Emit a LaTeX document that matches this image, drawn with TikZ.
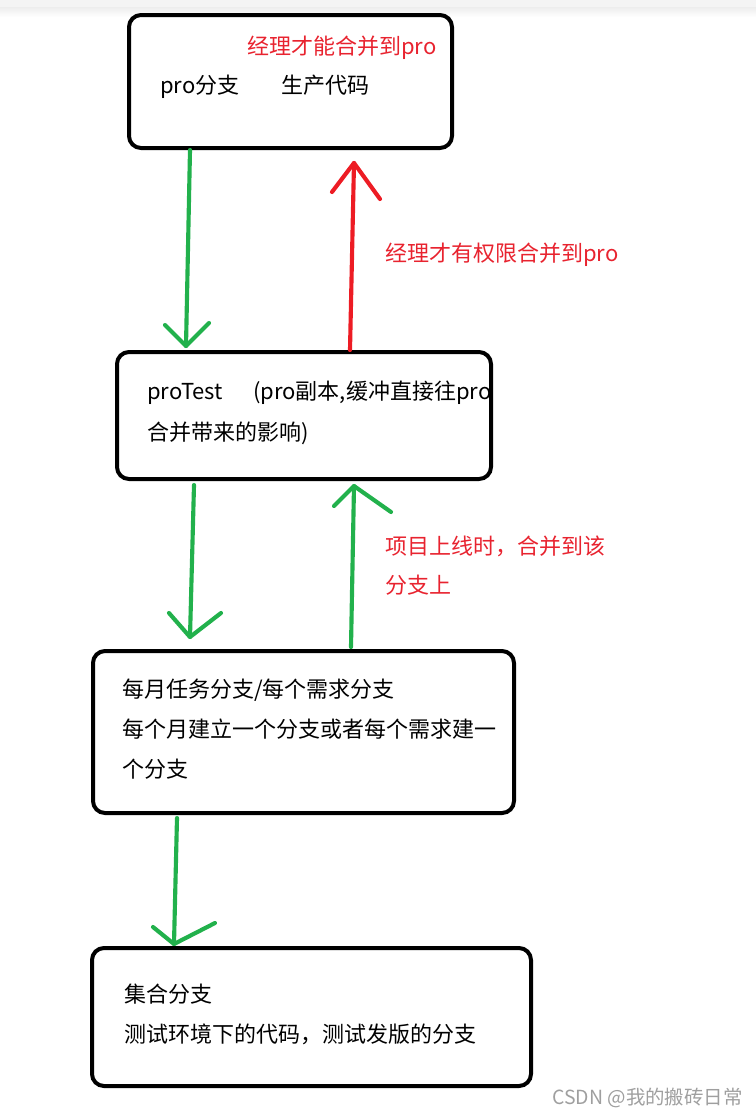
\documentclass[tikz,border=0pt]{standalone}
\usepackage{fontspec}
\newfontfamily\cjk{Noto Sans CJK SC}
\definecolor{pgreen}{HTML}{22B14C}
\definecolor{pred}{HTML}{ED1C24}
\definecolor{tred}{HTML}{E8232F}
\begin{document}
\begin{tikzpicture}[x=0.75pt,y=-0.75pt,
  box/.style={draw=black,line width=3pt,rounded corners=9pt,inner sep=0pt},
  txt/.style={anchor=west,inner sep=0pt,text height=0.8em,text depth=0.2em,font=\cjk\fontsize{16.5}{20}\selectfont},
  rtxt/.style={txt,text=tred},
  garrow/.style={draw=pgreen,line width=3.1pt,line cap=round,line join=round},
  rarrow/.style={draw=pred,line width=3.1pt,line cap=round,line join=round}]
\useasboundingbox (0,0) rectangle (756,1115);
% top strip
\fill[gray!9] (0,0) rectangle (756,7);
\shade[top color=gray!14,bottom color=white] (0,7) rectangle (756,17);
% boxes
\node[box,minimum width=242.25pt,minimum height=99.75pt] (b1) at (290.5,81.5) {};
\node[box,minimum width=280.5pt,minimum height=95.25pt] (b2) at (304,415.5) {};
\node[box,minimum width=315.75pt,minimum height=121.5pt] (b3) at (303.5,732) {};
\node[box,minimum width=329.25pt,minimum height=103.5pt] (b4) at (311.5,1017) {};
% texts
\node[rtxt] (t1r) at (247,50) {经理才能合并到pro};
\node[txt] (t1a) at (160,89) {pro分支};
\node[txt] (t1b) at (281,89) {生产代码};
\node[txt] (t2a) at (147,395) {proTest};
\node[txt] (t2b) at (253,395) {(pro副本,缓冲直接往pro};
\node[txt] (t2c) at (147,436) {合并带来的影响)};
\node[txt] (t3a) at (122,693) {每月任务分支/每个需求分支};
\node[txt] (t3b) at (122,733) {每个月建立一个分支或者每个需求建一};
\node[txt] (t3c) at (122,773) {个分支};
\node[txt] (t4a) at (124,998) {集合分支};
\node[txt] (t4b) at (124,1038) {测试环境下的代码，测试发版的分支};
\node[rtxt] (l1) at (385,257) {经理才有权限合并到pro};
\node[rtxt] (l2a) at (385,550) {项目上线时，合并到该};
\node[rtxt] (l2b) at (385,589) {分支上};
\node[anchor=west,inner sep=0pt,text=gray!75,font=\cjk\fontsize{14.6}{16}\selectfont] (wm) at (552,1098) {CSDN @我的搬砖日常};
% arrow coordinates
\coordinate (a1s) at (190,150); \coordinate (a1t) at (186,346);
\coordinate (a1l) at (165,325); \coordinate (a1r) at (209,323);
\coordinate (r1s) at (350,350); \coordinate (r1t) at (354,163);
\coordinate (r1l) at (332,192); \coordinate (r1r) at (380,199);
\coordinate (a2s) at (194,485); \coordinate (a2t) at (190,637);
\coordinate (a2l) at (169,613); \coordinate (a2r) at (221,613);
\coordinate (u2s) at (351,647); \coordinate (u2t) at (354,486);
\coordinate (u2l) at (334,506); \coordinate (u2r) at (391,512);
\coordinate (a3s) at (177,818); \coordinate (a3t) at (174,944);
\coordinate (a3l) at (153,927); \coordinate (a3r) at (215,923);
% arrows
\draw[garrow] (a1s) -- (a1t); \draw[garrow] (a1l) -- (a1t) -- (a1r);
\draw[rarrow] (r1s) -- (r1t); \draw[rarrow] (r1l) -- (r1t) -- (r1r);
\draw[garrow] (a2s) -- (a2t); \draw[garrow] (a2l) -- (a2t) -- (a2r);
\draw[garrow] (u2s) -- (u2t); \draw[garrow] (u2l) -- (u2t) -- (u2r);
\draw[garrow] (a3s) -- (a3t); \draw[garrow] (a3l) -- (a3t) -- (a3r);
\end{tikzpicture}
\end{document}
